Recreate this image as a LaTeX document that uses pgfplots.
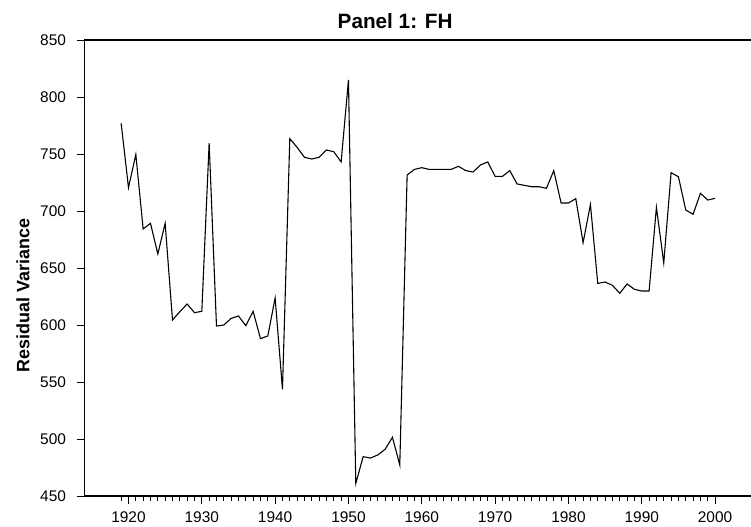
\documentclass[border=0pt]{standalone}
\usepackage{pgfplots}
\pgfplotsset{compat=1.18}
\usepackage{pgfplotstable}
\usepackage{fontspec}
\setmainfont{Liberation Sans}

% residual variance, FH panel
\pgfplotstableread{
year resvar
1919 776.9
1920 720.5
1921 749.6
1922 684.2
1923 689.2
1924 662.3
1925 689.2
1926 604.4
1927 611.7
1928 618.4
1929 610.8
1930 612.0
1931 759.6
1932 599.1
1933 600.0
1934 605.8
1935 607.9
1936 599.4
1937 612.0
1938 588.0
1939 590.4
1940 623.7
1941 543.6
1942 763.5
1943 755.8
1944 747.1
1945 745.6
1946 747.1
1947 753.5
1948 752.0
1949 743.0
1950 814.9
1951 461.0
1952 484.5
1953 483.3
1954 486.0
1955 491.0
1956 501.5
1957 477.2
1958 731.6
1959 736.5
1960 738.0
1961 736.5
1962 736.5
1963 736.5
1964 736.5
1965 739.2
1966 735.4
1967 734.2
1968 740.4
1969 743.0
1970 730.4
1971 730.4
1972 735.4
1973 723.7
1974 722.5
1975 721.3
1976 721.3
1977 719.9
1978 735.4
1979 707.0
1980 707.0
1981 710.8
1982 672.2
1983 705.7
1984 636.5
1985 637.7
1986 634.8
1987 627.8
1988 636.0
1989 631.3
1990 629.8
1991 629.8
1992 703.2
1993 654.4
1994 733.6
1995 730.1
1996 700.9
1997 697.1
1998 715.5
1999 709.6
2000 711.1
}\fhdata

\begin{document}
\begin{tikzpicture}
\begin{axis}[
    at={(0,0)}, anchor=south west,
    scale only axis,
    width=666.5bp, height=456bp,
    xmin=1914, xmax=2004.9,
    ymin=450, ymax=850,
    axis x line*=bottom,
    axis y line*=left,
    axis line style={-, line width=1.1pt},
    xtick={1920,1930,...,2000},
    minor xtick={1919,...,2000},
    ytick={450,500,...,850},
    tick align=outside,
    major tick length=8bp,
    minor tick length=5bp,
    every tick/.style={black, line width=0.9pt},
    /pgf/number format/assume math mode=true,
    /pgf/number format/1000 sep={},
    tick label style={font=\fontsize{15.5}{18}\selectfont},
    xticklabel style={yshift=-4bp},
    yticklabel style={xshift=-7bp},
    every axis title shift=0pt,
    title={Panel 1: FH},
    title style={font=\fontsize{20.8}{25}\selectfont\bfseries,
        at={(rel axis cs:0.466,1)}, anchor=base, yshift=11.7bp},
    ylabel={Residual Variance},
    ylabel style={font=\fontsize{18}{21}\selectfont\bfseries,
        at={(rel axis cs:-0.0828,0.44)}, anchor=base},
    clip=false,
]
\addplot[black, line width=1.1pt] table[x=year, y=resvar] {\fhdata};
\draw[black, line width=1.1pt] (rel axis cs:0,1) -- (rel axis cs:1,1);
\end{axis}
\pgfresetboundingbox
\useasboundingbox (-84.5bp,-31bp) rectangle (666.5bp,496bp);
\end{tikzpicture}
\end{document}
